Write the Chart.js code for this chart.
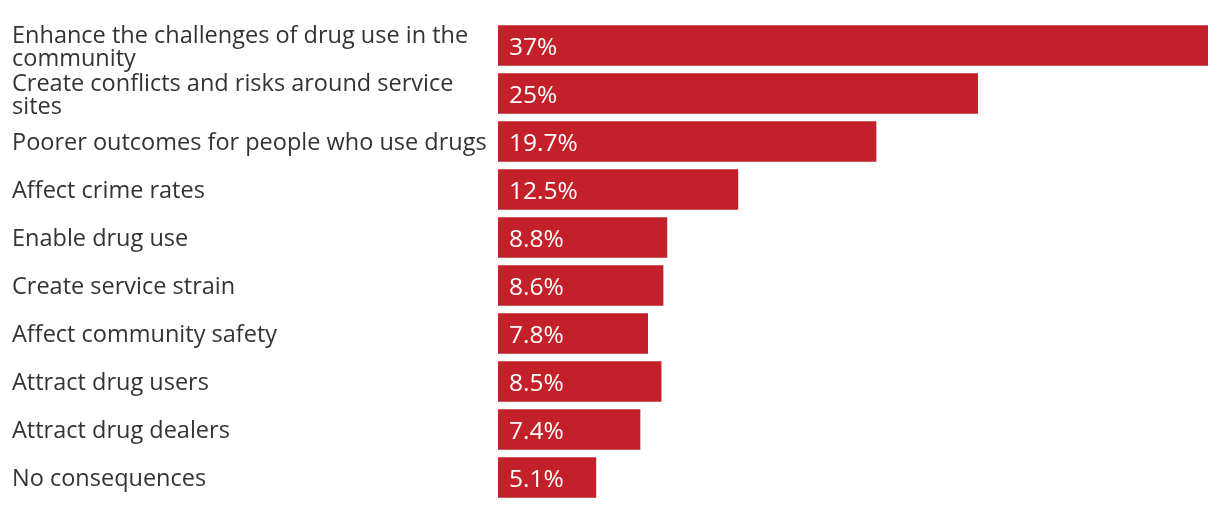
<!DOCTYPE html>
<html>
<head>
<meta charset="utf-8">
<script src="https://cdn.jsdelivr.net/npm/chart.js@4/dist/chart.umd.min.js"></script>
<style>
  html, body { margin: 0; padding: 0; background: #fff; }
  #wrap { width: 1220px; height: 508px; }
</style>
</head>
<body>
<div id="wrap"><canvas id="chart"></canvas></div>
<script>
// data
const categories = [
  ['Enhance the challenges of drug use in the', 'community'],
  ['Create conflicts and risks around service', 'sites'],
  'Poorer outcomes for people who use drugs',
  'Affect crime rates',
  'Enable drug use',
  'Create service strain',
  'Affect community safety',
  'Attract drug users',
  'Attract drug dealers',
  'No consequences'
];
const values = [37, 25, 19.7, 12.5, 8.8, 8.6, 7.8, 8.5, 7.4, 5.1];
const valueLabels = ['37%', '25%', '19.7%', '12.5%', '8.8%', '8.6%', '7.8%', '8.5%', '7.4%', '5.1%'];

const FONT = '"Open Sans", Lato, sans-serif';
const BAR_RED = '#c3202a';

// white value text drawn inside each bar, near its base
const insideLabels = {
  id: 'insideLabels',
  afterDatasetsDraw(chart) {
    const ctx = chart.ctx;
    const meta = chart.getDatasetMeta(0);
    ctx.save();
    ctx.fillStyle = '#ffffff';
    ctx.font = '24.5px ' + FONT;
    ctx.textAlign = 'left';
    ctx.textBaseline = 'middle';
    meta.data.forEach((bar, i) => {
      ctx.fillText(valueLabels[i], bar.base + 11, bar.y + 3);
    });
    ctx.restore();
  }
};

new Chart(document.getElementById('chart'), {
  type: 'bar',
  data: {
    labels: categories,
    datasets: [{
      data: values,
      backgroundColor: BAR_RED,
      barThickness: 40
    }]
  },
  options: {
    indexAxis: 'y',
    responsive: true,
    maintainAspectRatio: false,
    animation: false,
    layout: { padding: { left: 12, right: 12, top: 21.5, bottom: 6.5 } },
    plugins: {
      legend: { display: false },
      tooltip: { enabled: false }
    },
    scales: {
      x: {
        display: false,
        min: 0,
        max: 37
      },
      y: {
        grid: { display: false },
        border: { display: false },
        ticks: {
          autoSkip: false,
          crossAlign: 'far',
          color: '#333333',
          padding: 0,
          labelOffset: 2,
          font: { family: FONT, size: 23.5, lineHeight: 0.98 }
        },
        afterFit(scale) {
          scale.width = 486;
          scale.paddingTop = 0;
          scale.paddingBottom = 0;
        }
      }
    }
  },
  plugins: [insideLabels]
});
</script>
</body>
</html>
